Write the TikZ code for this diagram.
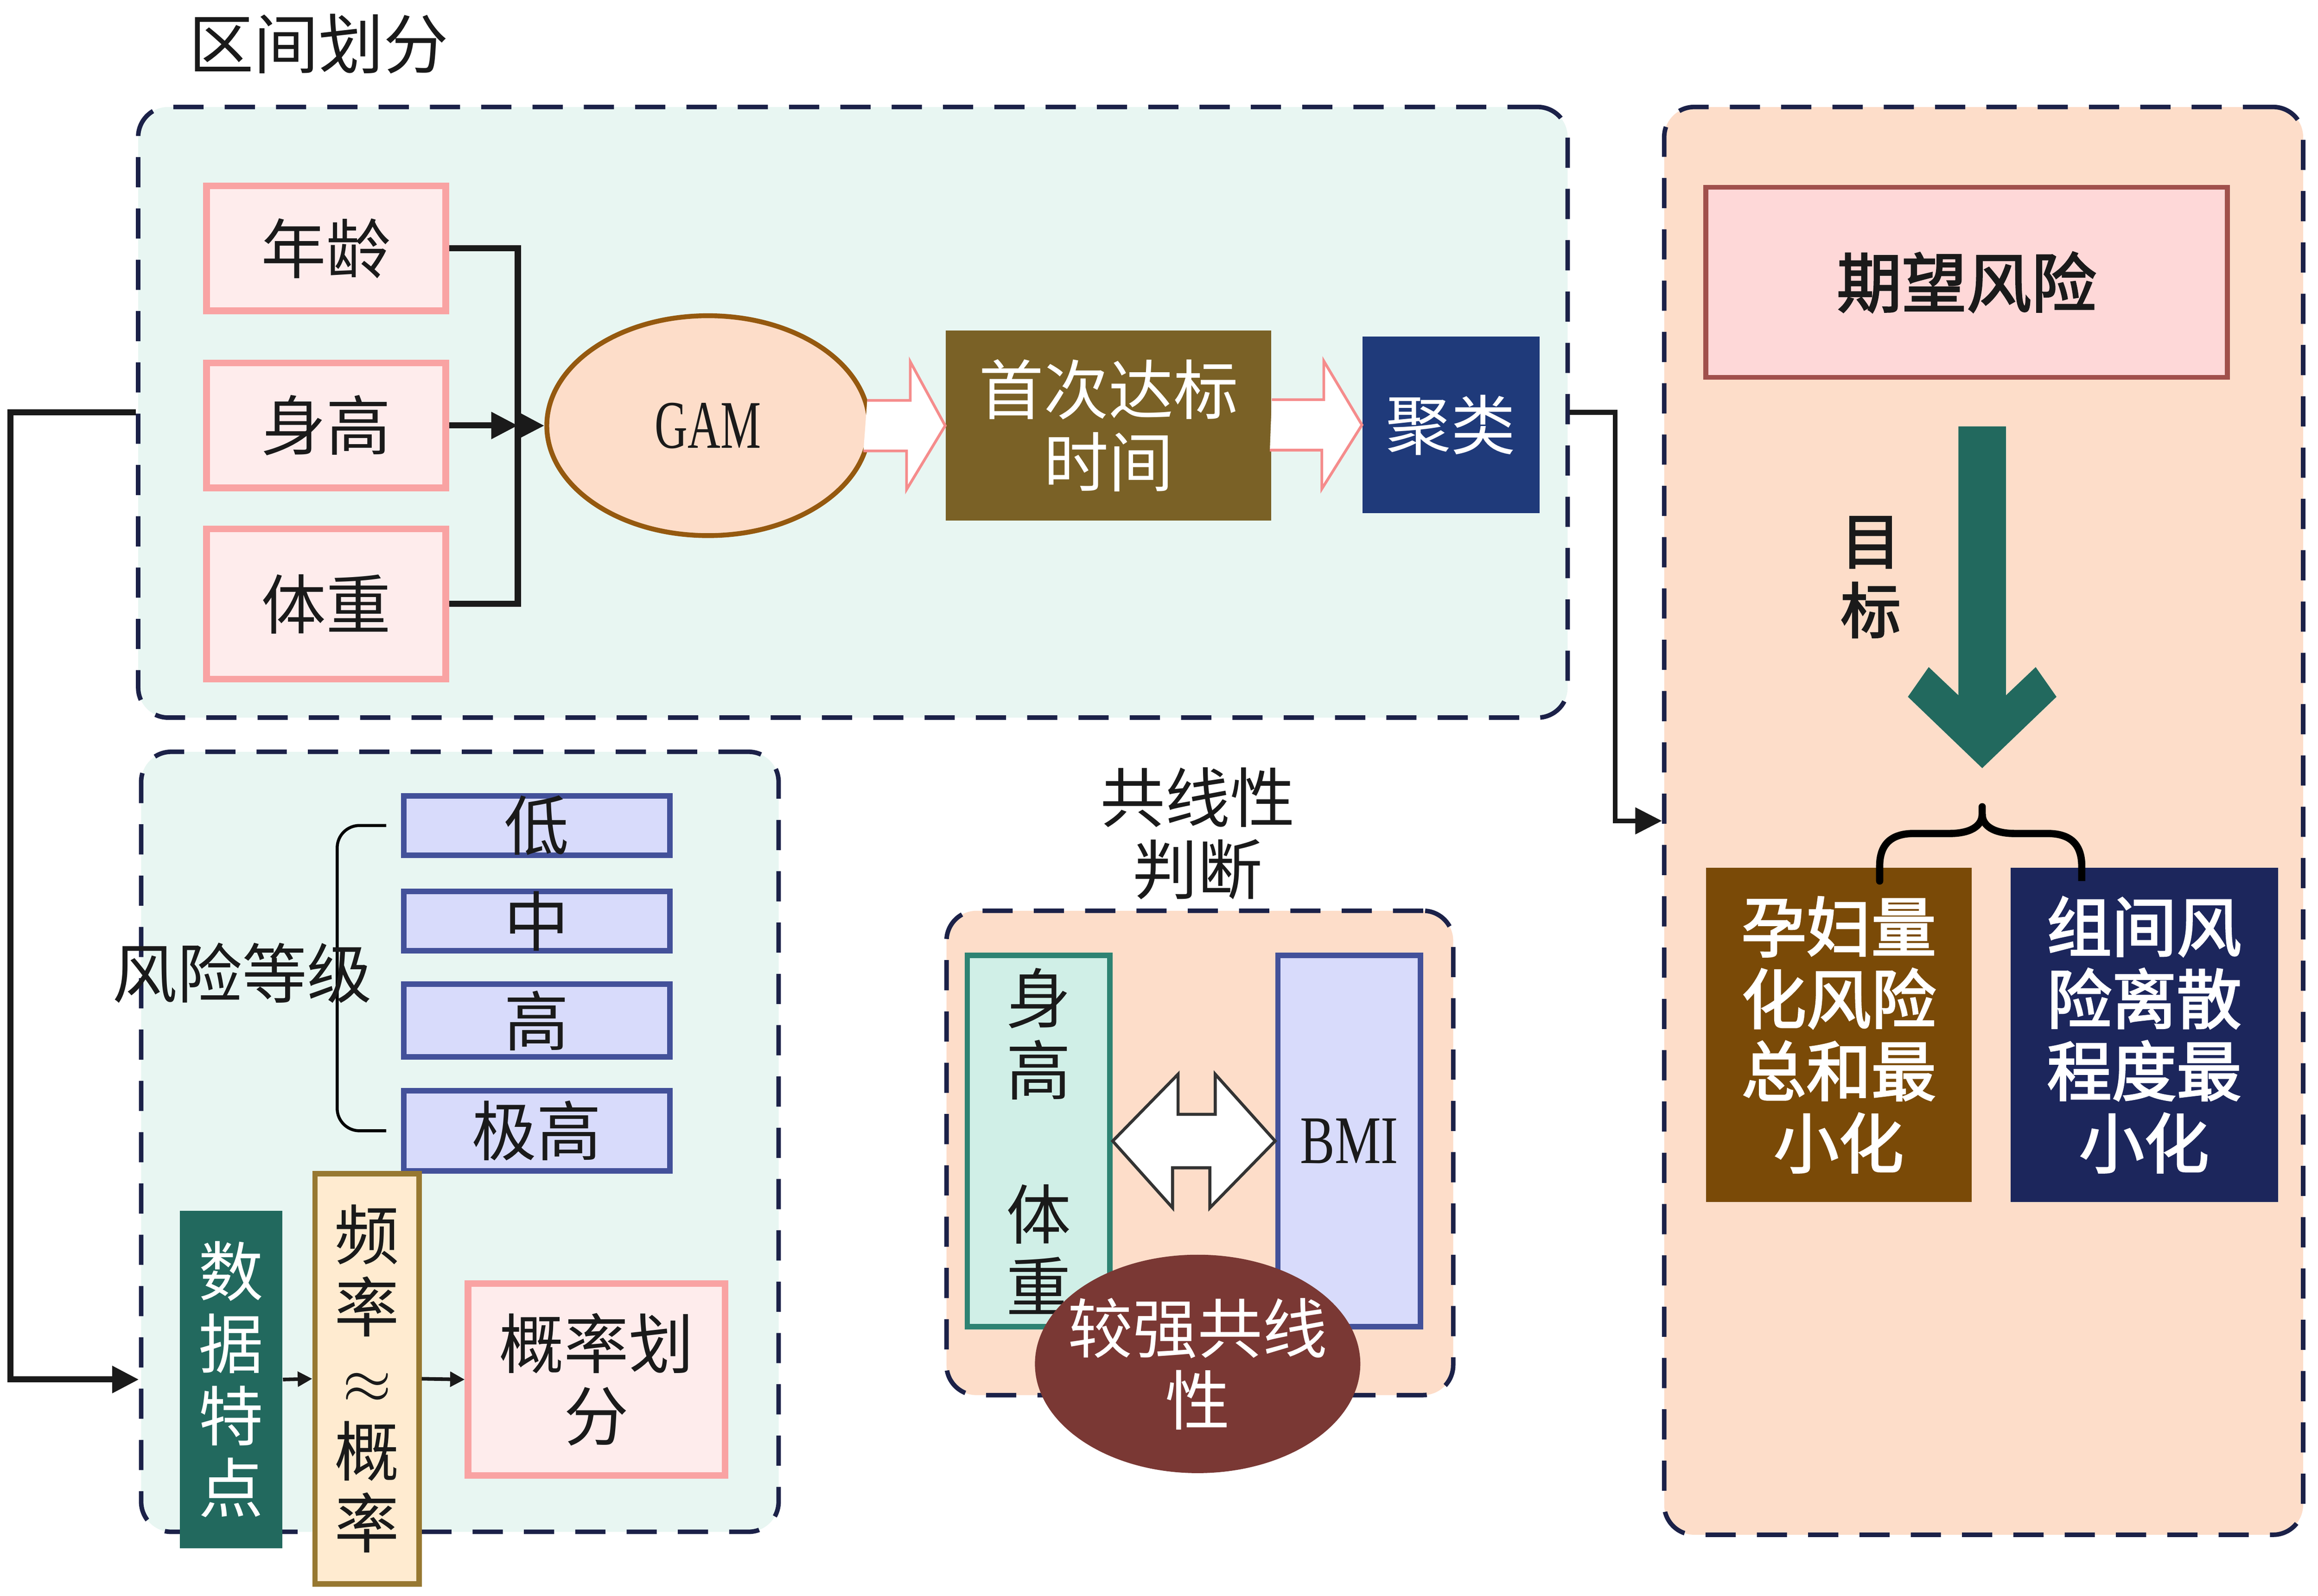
\documentclass[tikz,border=0pt]{standalone}
\usepackage{fontspec}
\setmainfont{Noto Sans CJK SC}[AutoFakeBold=2.5]
\newfontfamily\latinfont{Liberation Serif}
\usetikzlibrary{arrows.meta,shapes.geometric}
\definecolor{ink}{HTML}{1A1A1A}
\definecolor{grpline}{HTML}{1B2148}
\definecolor{mint}{HTML}{E8F6F2}
\definecolor{peach}{HTML}{FDDDC9}
\definecolor{pinkfill}{HTML}{FEECEC}
\definecolor{pinkline}{HTML}{F9A3A3}
\definecolor{holline}{HTML}{F58C8C}
\definecolor{gamline}{HTML}{95590F}
\definecolor{olive}{HTML}{7A6126}
\definecolor{navyA}{HTML}{1F3A7A}
\definecolor{rosefill}{HTML}{FED8D8}
\definecolor{roseline}{HTML}{A0504C}
\definecolor{tealA}{HTML}{22695E}
\definecolor{brownB}{HTML}{7A4A07}
\definecolor{navyB}{HTML}{1C265C}
\definecolor{lav}{HTML}{D8DBFB}
\definecolor{lavline}{HTML}{43519A}
\definecolor{cream}{HTML}{FFEBD0}
\definecolor{creamline}{HTML}{977831}
\definecolor{mintB}{HTML}{D0EFE7}
\definecolor{tealline}{HTML}{2E8373}
\definecolor{wine}{HTML}{7A3834}
\newcommand\lblfont{\fontsize{21.5}{23.9}\selectfont}

\begin{document}
\begin{tikzpicture}[x=0.0173cm,y=-0.0173cm,>={Triangle[length=0.31cm,width=0.3cm]},
	every node/.style={inner sep=0pt,align=center,font=\lblfont,text=ink},
	sz/.style 2 args={minimum width=#1*0.0173cm,minimum height=#2*0.0173cm},
	grp/.style={draw=grpline,line width=1.5pt,dash pattern=on 10pt off 7pt,rounded corners=0.35cm},
	pbox/.style={draw=pinkline,fill=pinkfill,line width=2.2pt},
	lvbox/.style={draw=lavline,fill=lav,line width=1.8pt},
	link/.style={line width=2pt,draw=ink},
	hol/.style={draw=holline,fill=white,line width=0.9pt}]
	\fill[white] (0,0) rectangle (1560,1074);
	\useasboundingbox (0,0) rectangle (1560,1074);
	% groups
	\node[grp,fill=mint,sz={962}{411}] (topgrp) at (574,277.5) {};
	\node[grp,fill=mint,sz={429}{525}] (lowgrp) at (309.5,768.5) {};
	\node[grp,fill=peach,sz={341}{326}] (midgrp) at (807.5,776) {};
	\node[grp,fill=peach,sz={430}{961}] (riskgrp) at (1335,552.5) {};
	\node (ttl) at (214.5,29.6) {区间划分};
	% interval part
	\node[pbox,sz={161}{84}] (age) at (219.5,167.2) {年龄};
	\node[pbox,sz={161}{84}] (ht) at (219.5,286.4) {身高};
	\node[pbox,sz={161}{101}] (wt) at (219.5,406.5) {体重};
	\node[ellipse,draw=gamline,fill=peach,line width=1.6pt,sz={217}{148}] (gam) at (476.5,286.5) {\latinfont\scalebox{0.7}[1.05]{GAM}};
	\node[fill=olive,sz={219}{128},text=white] (first) at (746,286.4) {首次达标\\时间};
	\node[fill=navyA,sz={119}{119},text=white] (clus) at (976.5,286) {聚类};
	\coordinate (bus) at (348.5,286.4);
	\draw[link] (age.east) -| (bus) |- (wt.east);
	\draw[link,->] (ht.east) -- (bus);
	\draw[link,->] (bus) -- (gam.west);
	\draw[hol] (gam.east) ++(-3,-17) -- ++(29,0) -- ++(0,-26) -- (first.west |- gam.east) -- ++(-26,43) -- ++(0,-26) -- ++(-29,0);
	\draw[hol] (first.east |- clus.west) ++(0,-17) -- ++(35,0) -- ++(0,-26) -- (clus.west) -- ++(-27,43) -- ++(0,-26) -- ++(-35,0);
	% risk part
	\node[draw=roseline,fill=rosefill,line width=1.6pt,sz={351}{128},font=\lblfont\bfseries] (expect) at (1323.5,190) {期望风险};
	\fill[tealA] (1318,287) -- (1318,468) -- (1298,449) -- (1284,469) -- (1334,517) -- (1384,469) -- (1370,449) -- (1350,468) -- (1350,287) -- cycle;
	\node[font=\fontsize{20}{23}\selectfont\bfseries] (goal) at (1259,388.5) {目\\标};
	\node[fill=brownB,sz={179}{225},text=white,font=\lblfont\bfseries] (preg) at (1237.5,696.5) {孕妇量\\化风险\\总和最\\小化};
	\node[fill=navyB,sz={180}{225},text=white,font=\lblfont\bfseries] (grpd) at (1443,696.5) {组间风\\险离散\\程度最\\小化};
	\draw[line width=2.4pt,draw=black,line cap=round] (1265,593) -- (1265,583) .. controls (1265,568) and (1273,561) .. (1288,561) -- (1312,561) .. controls (1326,561) and (1334,556) .. (1334,548) -- (1334,543);
	\draw[line width=2.4pt,draw=black] (1401,593) -- (1401,583) .. controls (1401,568) and (1393,561) .. (1378,561) -- (1356,561) .. controls (1342,561) and (1334,556) .. (1334,548);
	% risk levels
	\node[lvbox,sz={179}{40},label=center:低] (low) at (361.25,555.6) {};
	\node[lvbox,sz={179}{40},label=center:中] (mid) at (361.25,620) {};
	\node[lvbox,sz={179}{49},label=center:高] (hi) at (361.25,686.9) {};
	\node[lvbox,sz={179}{54},label=center:极高] (vhi) at (361.25,761.1) {};
	\draw[line width=1pt,rounded corners=0.26cm] (low.west) ++(-10,0) -- ++(-33,0) -- ++(0,205.5) -- ++(33,0);
	\node (lvl) at (163,655) {风险等级};
	\node[fill=tealA,sz={69}{227},text=white] (data) at (155.5,928.5) {数\\据\\特\\点};
	\node[draw=creamline,fill=cream,line width=1.8pt,sz={70}{276}] (freq) at (247,928) {频\\率\\$\approx$\\概\\率};
	\node[pbox,sz={173}{129}] (prob) at (401.5,928.5) {概率划\\分};
	\draw[line width=1.2pt,draw=ink,-{Triangle[length=0.17cm,width=0.17cm]}] (data.east) -- (freq.west);
	\draw[line width=1.2pt,draw=ink,-{Triangle[length=0.17cm,width=0.17cm]}] (freq.east) -- (prob.west);
	% collinearity
	\node (colt) at (806,561) {共线性\\判断};
	\node[draw=tealline,fill=mintB,line width=1.8pt,sz={96}{250}] (hw) at (699,768) {身\\高\\[23.9pt]体\\重};
	\node[lvbox,sz={96}{250}] (bmi) at (908,768) {\latinfont\scalebox{0.8}[1.05]{BMI}};
	\draw[draw=black!80,fill=white,line width=1pt] (hw.east) -- ++(44,-45) -- ++(0,27) -- ++(25,0) -- ++(0,-27) -- (bmi.west) -- ++(-44,45) -- ++(0,-27) -- ++(-25,0) -- ++(0,27) -- cycle;
	\node[ellipse,fill=wine,sz={219}{147},label={[text=white]center:{较强共线\\性}}] (strong) at (806,918) {};
	% links between groups
	\draw[link,->] (topgrp.west) -- (7,277.5) |- (lowgrp.west |- data.center);
	\draw[link,line width=1.6pt,->] (topgrp.east) -- (1087,277.5) |- (riskgrp.west);
\end{tikzpicture}
\end{document}
